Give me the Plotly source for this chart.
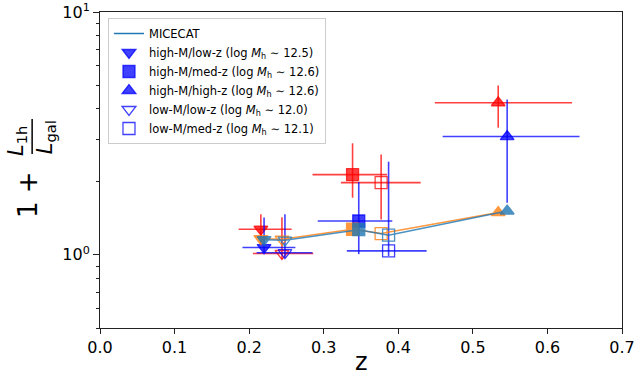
import plotly.graph_objects as go

# ---------------- data ----------------
labels = ["high-M/low-z (log <i>M</i><sub>h</sub> ∼ 12.5)",
          "low-M/low-z (log <i>M</i><sub>h</sub> ∼ 12.0)",
          "high-M/med-z (log <i>M</i><sub>h</sub> ∼ 12.6)",
          "low-M/med-z (log <i>M</i><sub>h</sub> ∼ 12.1)",
          "high-M/high-z (log <i>M</i><sub>h</sub> ∼ 12.6)"]
legend_order = [2, 5, 3, 6, 4]
symbols = ["triangle-down", "triangle-down-open", "square", "square-open", "triangle-up"]

# red sample
red_z = [0.2157, 0.244, 0.3387, 0.377, 0.534]
red_v = [1.275, 1.013, 2.14, 1.984, 4.23]
red_zlo = [0.186, 0.205, 0.285, 0.323, 0.449]
red_zhi = [0.257, 0.286, 0.385, 0.430, 0.633]
red_vlo = [1.11, 0.96, 1.72, 1.40, 3.34]
red_vhi = [1.47, 1.43, 2.88, 2.59, 4.98]

# blue sample
blue_z = [0.220, 0.248, 0.347, 0.387, 0.546]
blue_v = [1.072, 1.021, 1.379, 1.039, 3.07]
blue_zlo = [0.191, 0.210, 0.292, 0.331, 0.4595]
blue_zhi = [0.262, 0.285, 0.392, 0.438, 0.643]
blue_vlo = [1.007, 0.976, 1.007, 0.99, 1.64]
blue_vhi = [1.425, 1.47, 1.995, 2.42, 4.36]

# MICECAT predictions at each sample's redshifts
mice_red_v = [1.166, 1.16, 1.275, 1.224, 1.494]
mice_blue_v = [1.155, 1.15, 1.27, 1.205, 1.516]

RED = "rgba(255,0,0,0.75)"
BLUE = "rgba(0,0,255,0.75)"
C0 = "#1f77b4"
C1 = "#ff7f0e"

fig = go.Figure()

# legend-only MICECAT entry
fig.add_trace(go.Scatter(x=[None], y=[None], mode="lines", name="MICECAT",
                         line=dict(color=C0, width=1.5), legendrank=1))

def add_sample(zs, vs, zlo, zhi, vlo, vhi, color, show):
    for i in range(len(zs)):
        fig.add_trace(go.Scatter(
            x=[zs[i]], y=[vs[i]], mode="markers", name=labels[i],
            showlegend=show, legendrank=legend_order[i],
            marker=dict(symbol=symbols[i], size=12, color=color,
                        line=dict(color=color, width=1.3)),
            error_x=dict(type="data", symmetric=False,
                         array=[zhi[i] - zs[i]], arrayminus=[zs[i] - zlo[i]],
                         color=color, thickness=1.6, width=0),
            error_y=dict(type="data", symmetric=False,
                         array=[vhi[i] - vs[i]], arrayminus=[vs[i] - vlo[i]],
                         color=color, thickness=1.6, width=0),
        ))

add_sample(red_z, red_v, red_zlo, red_zhi, red_vlo, red_vhi, RED, False)
add_sample(blue_z, blue_v, blue_zlo, blue_zhi, blue_vlo, blue_vhi, BLUE, True)

# MICECAT curves
fig.add_trace(go.Scatter(x=red_z, y=mice_red_v, mode="lines+markers", showlegend=False,
                         opacity=0.8, line=dict(color=C1, width=1.5),
                         marker=dict(symbol=symbols, size=12, color=C1,
                                     line=dict(color=C1, width=1.3))))
fig.add_trace(go.Scatter(x=blue_z, y=mice_blue_v, mode="lines+markers", showlegend=False,
                         opacity=0.8, line=dict(color=C0, width=1.5),
                         marker=dict(symbol=symbols, size=12, color=C0,
                                     line=dict(color=C0, width=1.3))))

AX = "#222222"
fig.update_layout(
    width=634, height=382,
    margin=dict(l=100, r=12, t=12, b=54, autoexpand=False),
    paper_bgcolor="white", plot_bgcolor="white",
    font=dict(family="DejaVu Sans", size=16, color="black"),
    xaxis=dict(range=[0, 0.7], tickvals=[0, 0.1, 0.2, 0.3, 0.4, 0.5, 0.6, 0.7],
               tickformat=".1f", ticks="outside", ticklen=5, tickcolor=AX,
               showline=True, linecolor=AX, linewidth=1, mirror=True,
               showgrid=False, zeroline=False, automargin=False,
               ticklabeloverflow="allow"),
    yaxis=dict(type="log", range=[-0.30103, 1], tickvals=[1, 10],
               ticktext=["10<sup>0</sup>", "10<sup>1</sup>"],
               ticks="outside", ticklen=6, tickcolor=AX,
               minor=dict(tickvals=[0.5, 0.6, 0.7, 0.8, 0.9, 2, 3, 4, 5, 6, 7, 8, 9],
                          ticks="outside", ticklen=3.5, tickcolor=AX, showgrid=False),
               showline=True, linecolor=AX, linewidth=1, mirror=True,
               showgrid=False, zeroline=False, automargin=False,
               ticklabeloverflow="allow"),
    legend=dict(x=0.0153, y=0.981, xanchor="left", yanchor="top",
                bgcolor="rgba(255,255,255,0.8)", bordercolor="#cccccc", borderwidth=1,
                font=dict(size=11.5, family="DejaVu Sans"), tracegroupgap=0,
                itemwidth=30),
)

# axis labels
fig.add_annotation(text="z", xref="paper", yref="paper", x=0.5, y=-0.1076,
                   xanchor="center", yanchor="middle", showarrow=False,
                   font=dict(size=24))
fig.add_annotation(text="1 +", xref="paper", yref="paper", x=-0.138, y=0.424,
                   xanchor="center", yanchor="middle", showarrow=False, textangle=-90,
                   font=dict(size=26))
fig.add_annotation(text="<i>L</i><sub>1h</sub>", xref="paper", yref="paper", x=-0.159, y=0.592,
                   xanchor="center", yanchor="middle", showarrow=False, textangle=-90,
                   font=dict(size=21))
fig.add_annotation(text="<i>L</i><sub>gal</sub>", xref="paper", yref="paper", x=-0.1034, y=0.604,
                   xanchor="center", yanchor="middle", showarrow=False, textangle=-90,
                   font=dict(size=21))
fig.add_shape(type="line", xref="paper", yref="paper", x0=-0.130, x1=-0.130,
              y0=0.551, y1=0.661, line=dict(color="black", width=1.5))

# remove the page's default 8px body margin so the figure fills the window
fig.write_html("out.html", config={"displayModeBar": False},
               post_script="document.body.style.margin='0';document.body.style.overflow='hidden';")
